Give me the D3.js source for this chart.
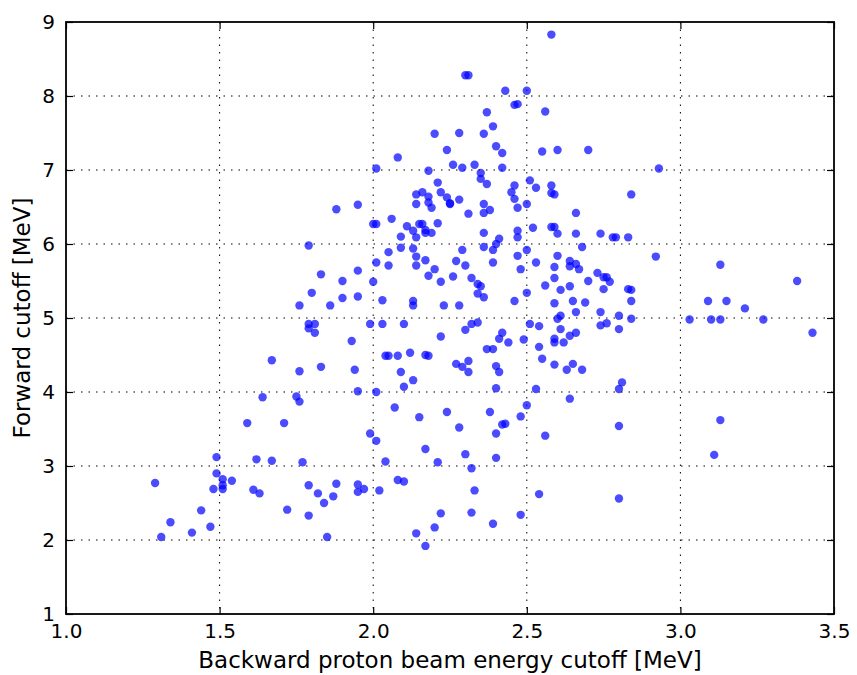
<!DOCTYPE html>
<html lang="en">
<head>
    <title>Cutoff scatter</title>
    <script src="https://d3js.org/d3.v7.min.js"></script>
    <style>
        body { margin: 0; background: #fff; }
        text { font-family: "DejaVu Sans", sans-serif; }
    </style>
</head>
<body>
<svg id="chart"></svg>
<script>

    // backward proton beam energy cutoff [MeV]
    const backward = [
        1.59,1.71,1.49,1.62,1.67,1.77,1.29,1.49,1.51,1.51,1.51,1.48,1.54,1.61,1.63,1.79,1.88,1.82,1.87,1.84,
        1.72,1.79,1.44,1.34,1.47,1.41,1.31,1.85,
        1.88,1.79,1.83,1.80,1.76,1.86,1.79,1.81,1.79,1.81,1.67,1.83,1.76,1.64,1.75,1.76,
        2.31,2.36,2.38,2.06,2.00,2.01,2.11,2.15,2.16,2.13,2.17,2.17,2.19,2.21,2.09,2.14,2.36,2.41,2.40,2.09,
        2.13,2.05,2.29,2.36,2.39,2.14,2.17,2.01,2.05,2.14,2.27,2.30,2.39,1.95,2.20,2.18,1.90,2.00,2.22,2.26,
        2.32,2.34,2.35,2.34,2.36,1.90,1.95,2.03,2.13,2.13,2.23,2.28,1.99,2.03,2.10,2.32,2.34,2.30,2.22,2.42,
        2.41,2.44,1.93,2.04,2.05,2.08,2.12,2.17,2.18,2.37,2.39,2.27,2.29,2.31,2.31,2.40,2.41,1.94,2.09,2.13,
        2.10,1.95,2.01,2.40,2.07,2.24,2.38,2.15,
        1.99,2.01,2.28,2.42,2.43,2.40,2.17,2.30,2.40,2.04,2.21,2.32,2.08,2.10,1.95,1.95,1.97,2.02,2.33,2.22,
        2.32,2.39,2.20,2.14,2.17,
        2.30,2.31,2.43,2.37,2.39,2.20,2.28,2.36,2.24,2.40,2.42,2.08,2.01,2.18,2.26,2.29,2.33,2.42,2.35,2.35,
        2.37,2.21,2.14,2.16,2.18,2.22,2.24,2.25,2.25,2.28,2.14,2.18,2.19,2.36,1.95,
        2.58,2.50,2.46,2.47,2.56,2.55,2.60,2.70,2.93,2.51,2.46,2.53,2.58,2.45,2.58,2.59,2.46,2.84,2.50,2.47,
        2.66,
        2.47,2.47,2.52,2.58,2.59,2.60,2.66,2.74,2.78,2.79,2.83,2.68,2.92,2.50,2.47,2.60,2.53,2.48,2.59,2.64,
        2.64,2.66,2.67,2.59,2.56,2.61,2.64,2.70,2.73,2.75,2.76,2.77,2.75,2.83,2.84,2.84,2.50,2.46,2.59,2.65,
        2.69,2.66,2.74,2.80,2.84,2.61,2.60,2.51,2.54,2.74,2.76,2.80,2.61,2.66,2.64,2.49,2.59,2.59,2.62,2.54,
        2.55,2.59,2.65,2.63,2.68,2.81,2.80,2.53,2.64,2.50,2.48,
        2.80,2.56,2.54,2.80,2.48,
        3.13,3.38,3.09,3.15,3.21,3.03,3.10,3.13,3.27,3.43,3.13,3.11
    ];

    // forward cutoff [MeV]
    const forward = [
        3.58,3.58,3.12,3.09,3.07,3.05,2.77,2.90,2.82,2.74,2.69,2.69,2.80,2.68,2.63,2.74,2.76,2.63,2.59,2.50,
        2.41,2.33,2.40,2.24,2.18,2.10,2.04,2.04,
        6.47,5.98,5.59,5.34,5.17,5.17,4.92,4.92,4.86,4.80,4.43,4.34,4.28,3.93,3.94,3.87,
        6.41,6.42,6.46,6.34,6.27,6.27,6.24,6.27,6.27,6.18,6.19,6.15,6.15,6.28,6.10,6.09,6.15,6.07,6.00,5.95,
        5.94,5.89,5.92,5.96,5.92,5.83,5.78,5.75,5.71,5.71,5.77,5.71,5.75,5.64,5.66,5.57,5.50,5.49,5.49,5.56,
        5.54,5.46,5.43,5.33,5.28,5.27,5.29,5.24,5.23,5.17,5.17,5.17,4.92,4.92,4.92,4.92,4.94,4.84,4.75,4.80,
        4.72,4.67,4.69,4.49,4.49,4.49,4.53,4.50,4.49,4.58,4.58,4.38,4.34,4.42,4.27,4.35,4.27,4.30,4.27,4.16,
        4.07,4.01,4.00,4.05,3.79,3.73,3.73,3.66,
        3.44,3.34,3.52,3.56,3.57,3.44,3.23,3.16,3.11,3.06,3.05,2.97,2.81,2.79,2.75,2.65,2.69,2.67,2.67,2.36,
        2.37,2.22,2.17,2.09,1.92,
        8.28,8.28,8.07,7.78,7.59,7.49,7.50,7.49,7.27,7.32,7.23,7.17,7.02,6.99,7.07,7.03,7.07,7.03,6.96,6.88,
        6.81,6.83,6.67,6.70,6.64,6.70,6.63,6.54,6.55,6.60,6.54,6.56,6.49,6.54,6.53,
        8.83,8.07,7.88,7.89,7.79,7.25,7.27,7.27,7.02,6.86,6.79,6.76,6.79,6.70,6.69,6.67,6.61,6.67,6.54,6.49,
        6.42,
        6.18,6.09,6.22,6.23,6.23,6.14,6.14,6.14,6.09,6.09,6.09,5.96,5.83,5.92,5.84,5.84,5.75,5.66,5.69,5.77,
        5.70,5.73,5.66,5.54,5.44,5.38,5.43,5.50,5.61,5.55,5.55,5.49,5.39,5.39,5.38,5.23,5.34,5.23,5.20,5.23,
        5.21,5.08,5.08,5.03,4.99,5.03,4.99,4.92,4.89,4.90,4.93,4.85,4.85,4.80,4.76,4.71,4.72,4.67,4.67,4.61,
        4.45,4.37,4.38,4.30,4.30,4.13,4.04,4.04,3.91,3.82,3.67,
        3.54,3.41,2.62,2.56,2.34,
        5.72,5.50,5.23,5.23,5.13,4.98,4.98,4.98,4.98,4.80,3.62,3.15
    ];

    const xTicks = [1.0, 1.5, 2.0, 2.5, 3.0, 3.5];
    const yTicks = [1, 2, 3, 4, 5, 6, 7, 8, 9];

    let margin = {top:22,right:23,bottom:61,left:66},
            width = 857,
            height = 675,
            chartWidth = width - margin.left - margin.right,
            chartHeight = height - margin.top - margin.bottom;

    let svg = d3.select("#chart")
            .attr("width", width)
            .attr("height", height);

    let x = d3.scaleLinear().domain([1, 3.5]).range([0, chartWidth]);
    let y = d3.scaleLinear().domain([1, 9]).range([chartHeight, 0]);

    let g = svg.append("g")
            .attr("transform", `translate(${margin.left},${margin.top})`);

    // dotted grid
    let grid = g.append("g").attr("class", "grid");
    grid.selectAll("line.gx")
            .data(xTicks.slice(1, -1))
            .enter().append("line")
            .attr("class", "gx")
            .attr("x1", d => x(d)).attr("x2", d => x(d))
            .attr("y1", 0).attr("y2", chartHeight);
    grid.selectAll("line.gy")
            .data(yTicks.slice(1, -1))
            .enter().append("line")
            .attr("class", "gy")
            .attr("x1", 0).attr("x2", chartWidth)
            .attr("y1", d => y(d)).attr("y2", d => y(d));
    grid.selectAll("line")
            .attr("stroke", "#000")
            .attr("stroke-width", 1)
            .attr("stroke-dasharray", "1.5,6");

    // points
    g.append("g")
            .selectAll("circle")
            .data(backward.map((b, i) => [b, forward[i]]))
            .enter().append("circle")
            .attr("cx", d => x(d[0]))
            .attr("cy", d => y(d[1]))
            .attr("r", 4.2)
            .attr("fill", "#0000ff")
            .attr("fill-opacity", 0.7);

    // axes, ticks inward on all sides
    let tickLen = 7;
    let axBottom = g.append("g")
            .attr("transform", `translate(0,${chartHeight})`)
            .call(d3.axisBottom(x).tickValues(xTicks).tickFormat(d3.format(".1f"))
                    .tickSizeInner(-tickLen).tickSizeOuter(0).tickPadding(10));
    let axLeft = g.append("g")
            .call(d3.axisLeft(y).tickValues(yTicks).tickFormat(d3.format("d"))
                    .tickSizeInner(-tickLen).tickSizeOuter(0).tickPadding(11));
    let axTop = g.append("g")
            .call(d3.axisTop(x).tickValues(xTicks).tickFormat("")
                    .tickSizeInner(-tickLen).tickSizeOuter(0));
    let axRight = g.append("g")
            .attr("transform", `translate(${chartWidth},0)`)
            .call(d3.axisRight(y).tickValues(yTicks).tickFormat("")
                    .tickSizeInner(-tickLen).tickSizeOuter(0));

    [axBottom, axLeft, axTop, axRight].forEach(a => {
        a.select(".domain").remove();
        a.selectAll(".tick line").attr("stroke", "#000").attr("stroke-width", 1.2);
        a.selectAll("text")
                .attr("fill", "#000")
                .style("font-size", "20px")
                .style("font-family", "'DejaVu Sans', sans-serif");
    });

    // frame
    g.append("rect")
            .attr("width", chartWidth)
            .attr("height", chartHeight)
            .attr("fill", "none")
            .attr("stroke", "#000")
            .attr("stroke-width", 1.8);

    svg.append("text")
            .attr("x", margin.left + chartWidth / 2)
            .attr("y", 668)
            .attr("text-anchor", "middle")
            .style("font-size", "23px")
            .text("Backward proton beam energy cutoff [MeV]");

    svg.append("text")
            .attr("transform", `translate(30,${margin.top + chartHeight / 2}) rotate(-90)`)
            .attr("text-anchor", "middle")
            .style("font-size", "23px")
            .text("Forward cutoff [MeV]");

</script>
</body>
</html>
